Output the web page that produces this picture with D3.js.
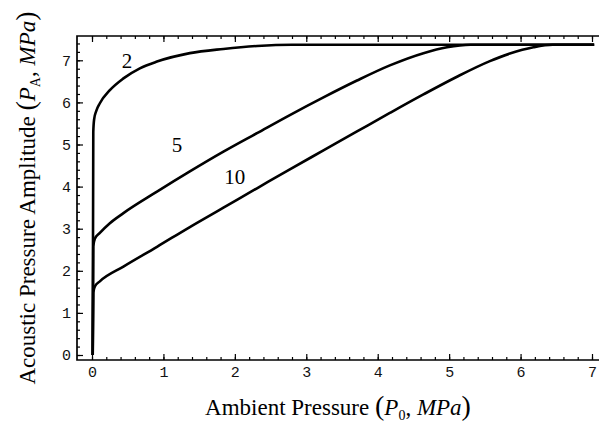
<!DOCTYPE html>
<html>
<head>
<meta charset="utf-8">
<script src="https://cdn.jsdelivr.net/npm/d3@7"></script>
<style>
  body { margin: 0; background: #fff; }
  svg { display: block; }
  .tick text { font-family: "Liberation Mono", monospace; font-size: 15px; fill: #111; }
  .tick line { stroke: #000; stroke-width: 1.2; }
  .domain { display: none; }
  .frame { fill: none; stroke: #000; stroke-width: 1.7; }
  .curve { fill: none; stroke: #000; stroke-width: 2.6; stroke-linejoin: round; }
  .title, .clabel { font-family: "Liberation Serif", serif; fill: #000; }
</style>
</head>
<body>
<div class="chart"></div>
<script>
// curve families, labelled by the number next to each line
const seriesNames = ['2', '5', '10']

const p0_2 = [0.01, 0.018, 0.03, 0.06, 0.11, 0.25, 0.44, 0.67, 0.91, 1.37, 1.84, 2.31, 2.8, 7.03]
const pa_2 = [0, 5.3, 5.6, 5.8, 5.98, 6.29, 6.57, 6.81, 6.97, 7.17, 7.27, 7.34, 7.37, 7.37]

const p0_5 = [0.01, 0.018, 0.04, 0.11, 0.25, 0.44, 0.91, 1.37, 1.84, 2.31, 2.77, 3.24, 3.71, 4.17, 4.64, 4.97, 5.3, 7.03]
const pa_5 = [0, 2.58, 2.76, 2.9, 3.13, 3.37, 3.88, 4.36, 4.83, 5.27, 5.70, 6.12, 6.52, 6.88, 7.17, 7.31, 7.37, 7.37]

const p0_10 = [0.01, 0.018, 0.04, 0.11, 0.44, 0.91, 1.37, 1.84, 2.31, 2.77, 3.24, 3.71, 4.17, 4.64, 5.11, 5.57, 5.85, 6.18, 6.45, 7.03]
const pa_10 = [0, 1.48, 1.63, 1.75, 2.10, 2.57, 3.04, 3.50, 3.96, 4.41, 4.86, 5.31, 5.75, 6.19, 6.61, 6.98, 7.16, 7.31, 7.37, 7.37]

// where the curve numbers sit (data coords)
const labelX = [0.49, 1.19, 2.0]
const labelY = [7.0, 4.99, 4.24]

const xTicks = [0, 1, 2, 3, 4, 5, 6, 7]
const yTicks = [0, 1, 2, 3, 4, 5, 6, 7]

const width = 599, height = 426
const frame = {left: 77, right: 600, top: 36, bottom: 360}

let x = d3.scaleLinear().domain([0, 7]).range([92, 592])
let y = d3.scaleLinear().domain([0, 7]).range([355, 60.3])

let svg = d3.select('.chart')
.append('svg')
.attr('width', width)
.attr('height', height)

const minorX = d3.range(0, 7.01, 0.2).map(d => +d.toFixed(1))
const minorY = d3.range(0, 7.41, 0.2).map(d => +d.toFixed(1))

// bottom axis (inward ticks)
svg.append('g')
.attr('transform', 'translate(0,' + frame.bottom + ')')
.call(d3.axisBottom(x).tickValues(minorX).tickFormat('').tickSize(-3))

svg.append('g')
.attr('transform', 'translate(0,' + frame.bottom + ')')
.call(d3.axisBottom(x).tickValues(xTicks).tickFormat(d3.format('d')).tickSize(-6).tickPadding(6))

// top frame ticks
svg.append('g')
.attr('transform', 'translate(0,' + frame.top + ')')
.call(d3.axisTop(x).tickValues(minorX).tickFormat('').tickSize(-3))

svg.append('g')
.attr('transform', 'translate(0,' + frame.top + ')')
.call(d3.axisTop(x).tickValues(xTicks).tickFormat('').tickSize(-6))

// left axis
svg.append('g')
.attr('transform', 'translate(' + frame.left + ',0)')
.call(d3.axisLeft(y).tickValues(minorY).tickFormat('').tickSize(-3))

svg.append('g')
.attr('transform', 'translate(' + frame.left + ',0)')
.call(d3.axisLeft(y).tickValues(yTicks).tickFormat(d3.format('d')).tickSize(-6).tickPadding(6))

svg.append('path')
.attr('class', 'frame')
.attr('d', 'M' + frame.right + ',' + frame.top + 'H' + frame.left + 'V' + frame.bottom + 'H' + frame.right)

let valueline = d3.line()
.x(d => x(d[0]))
.y(d => y(d[1]))
.curve(d3.curveMonotoneX)

const series = [
  d3.zip(p0_2, pa_2),
  d3.zip(p0_5, pa_5),
  d3.zip(p0_10, pa_10)
]

svg.selectAll('.curve')
.data(series)
.enter().append('path')
.attr('class', 'curve')
.attr('d', valueline)

svg.selectAll('.clabel')
.data(seriesNames)
.enter().append('text')
.attr('class', 'clabel')
.attr('x', (d, i) => x(labelX[i]))
.attr('y', (d, i) => y(labelY[i]))
.attr('dy', '0.35em')
.attr('text-anchor', 'middle')
.style('font-size', '21px')
.text(d => d)

// axis titles
let xt = svg.append('text')
.attr('class', 'title')
.attr('x', (frame.left + width) / 2)
.attr('y', 415)
.attr('text-anchor', 'middle')
.style('font-size', '23px')
xt.append('tspan').text('Ambient Pressure ')
xt.append('tspan').style('font-size', '28px').text('(')
xt.append('tspan').style('font-style', 'italic').text('P')
xt.append('tspan').style('font-size', '14px').attr('dy', 5).text('0')
xt.append('tspan').attr('dy', -5).text(', ')
xt.append('tspan').style('font-style', 'italic').text('MPa')
xt.append('tspan').style('font-size', '28px').text(')')

let yt = svg.append('text')
.attr('class', 'title')
.attr('transform', 'translate(35,' + (frame.top + frame.bottom) / 2 + ') rotate(-90)')
.attr('text-anchor', 'middle')
.style('font-size', '23px')
yt.append('tspan').text('Acoustic Pressure Amplitude ')
yt.append('tspan').style('font-size', '28px').text('(')
yt.append('tspan').style('font-style', 'italic').text('P')
yt.append('tspan').style('font-size', '14px').attr('dy', 5).text('A')
yt.append('tspan').attr('dy', -5).text(', ')
yt.append('tspan').style('font-style', 'italic').text('MPa')
yt.append('tspan').style('font-size', '28px').text(')')
</script>
</body>
</html>
